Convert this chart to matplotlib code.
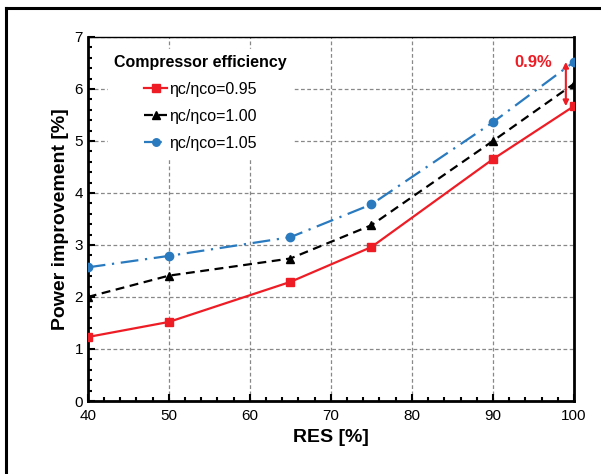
import matplotlib
matplotlib.use("Agg")
import matplotlib.pyplot as plt
from matplotlib.ticker import MultipleLocator
from matplotlib.lines import Line2D

plt.rcParams['font.family'] = ['Liberation Sans', 'DejaVu Sans']

res = [40, 50, 65, 75, 90, 100]
eff_095 = [1.23, 1.52, 2.29, 2.96, 4.65, 5.67]
eff_100 = [2.00, 2.41, 2.74, 3.38, 5.00, 6.10]
eff_105 = [2.57, 2.79, 3.15, 3.78, 5.36, 6.52]
labels = ["ηc/ηco=0.95", "ηc/ηco=1.00", "ηc/ηco=1.05"]

fig = plt.figure(figsize=(6.01, 4.74), dpi=100)
# outer frame (top and left edges visible)
fig.add_artist(Line2D([6/601, 6/601], [0, 1 - 8/474], transform=fig.transFigure, color='black', lw=2.2))
fig.add_artist(Line2D([6/601, 1], [1 - 8/474, 1 - 8/474], transform=fig.transFigure, color='black', lw=2.2))

ax = fig.add_axes([0.146, 0.154, 0.809, 0.768])

ax.plot(res, eff_095, color='#ee1c25', lw=1.6, ls='-', marker='s', ms=6, label=labels[0], zorder=4)
ax.plot(res, eff_100, color='black', lw=1.6, ls=(0, (4, 2.5)), marker='^', ms=6, label=labels[1], zorder=4)
ax.plot(res, eff_105, color='#2a7abf', lw=1.6, ls=(0, (8, 3, 1, 3)), marker='o', ms=6, label=labels[2], zorder=4)

ax.set_xlim(40, 100)
ax.set_ylim(0, 7)
ax.xaxis.set_major_locator(MultipleLocator(10))
ax.xaxis.set_minor_locator(MultipleLocator(2))
ax.yaxis.set_major_locator(MultipleLocator(1))
ax.yaxis.set_minor_locator(MultipleLocator(0.2))
ax.tick_params(which='both', direction='in', width=1.5, labelsize=11)
ax.tick_params(which='major', length=5)
ax.tick_params(which='minor', length=3)
ax.tick_params(axis='x', pad=6)
ax.grid(True, which='major', color='#888888', ls=(0, (3, 2)), lw=0.9)
for s in ax.spines.values():
    s.set_linewidth(2)
ax.spines['top'].set_linewidth(1)

ax.set_xlabel("RES [%]", fontsize=14, fontweight='bold')
ax.set_ylabel("Power improvement [%]", fontsize=14, fontweight='bold')

leg = ax.legend(title="Compressor efficiency", loc='upper left', bbox_to_anchor=(0.025, 0.99),
                frameon=True, fontsize=11.5, title_fontproperties={'weight': 'bold', 'size': 11.5},
                handlelength=1.4, handletextpad=0.15, markerscale=0.9, borderpad=0.4, labelspacing=0.75)
leg.get_frame().set_edgecolor('white')
leg.get_frame().set_facecolor('white')
leg.get_frame().set_alpha(1)
leg.get_frame().set_boxstyle('square', pad=0)

ax.annotate("", xy=(99.0, 5.67), xytext=(99.0, 6.52),
            arrowprops=dict(arrowstyle='<|-|>', color='#ee1c25', lw=1.5, mutation_scale=8, shrinkA=0, shrinkB=0))
ax.text(95.0, 6.5, "0.9%", color='#ee1c25', fontsize=12, fontweight='bold', ha='center', va='center')

fig.savefig("out.png", dpi=100)
